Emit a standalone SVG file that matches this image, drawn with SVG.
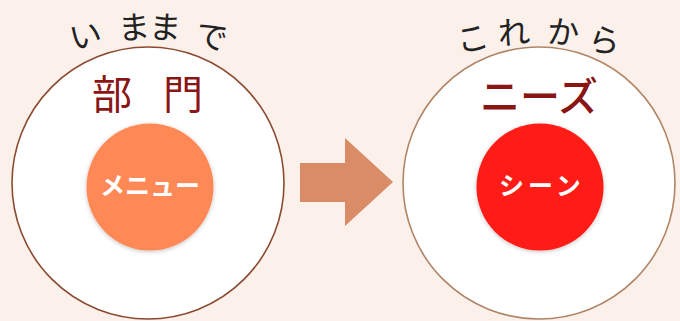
<svg xmlns="http://www.w3.org/2000/svg" width="680" height="321" viewBox="0 0 680 321">
<defs>
<style>
.hand{font-family:"Noto Sans CJK JP","Noto Sans",sans-serif;font-size:32px;fill:#222;text-anchor:middle}
.title{font-family:"Noto Sans CJK JP","Noto Sans",sans-serif;font-size:40px;fill:#8a1515;text-anchor:middle}
.inner{font-family:"Noto Sans CJK JP","Noto Sans",sans-serif;font-size:25px;fill:#fff;font-weight:bold;text-anchor:middle}
.plate{fill:#fff;stroke-width:1.6}
</style>
<filter id="sh" x="-20%" y="-20%" width="140%" height="140%">
<feGaussianBlur in="SourceAlpha" stdDeviation="2"/>
<feOffset dx="0" dy="1"/>
<feComponentTransfer><feFuncA type="linear" slope="0.25"/></feComponentTransfer>
<feMerge><feMergeNode/><feMergeNode in="SourceGraphic"/></feMerge>
</filter>
</defs>
<rect width="680" height="321" fill="#fcf0eb"/>
<g id="before">
<circle class="plate" cx="148" cy="183" r="136" stroke="#8b4a30"/>
<text class="hand" x="86" y="47" transform="rotate(-12 86 38)">い</text>
<text class="hand" x="134" y="39" transform="rotate(-4 134 30)">ま</text>
<text class="hand" x="165" y="39" transform="rotate(4 165 30)">ま</text>
<text class="hand" x="211" y="48" transform="rotate(12 211 39)">で</text>
<text class="title" x="112" y="109">部</text>
<text class="title" x="183" y="109">門</text>
<circle cx="150" cy="187" r="63.5" fill="#ff8957" filter="url(#sh)"/>
<text class="inner" x="150" y="195">メニュー</text>
</g>
<g id="after">
<circle class="plate" cx="539" cy="183" r="136" stroke="#b08566"/>
<text class="hand" x="473" y="50" transform="rotate(-12 473 41)">こ</text>
<text class="hand" x="514" y="44" transform="rotate(-4 514 35)">れ</text>
<text class="hand" x="563" y="44" transform="rotate(4 563 35)">か</text>
<text class="hand" x="604" y="52" transform="rotate(12 604 43)">ら</text>
<text class="title" x="539" y="111" font-weight="500">ニーズ</text>
<circle cx="540" cy="187" r="63.5" fill="#ff1a14" filter="url(#sh)"/>
<text class="inner" x="542" y="195" letter-spacing="4">シーン</text>
</g>
<g id="connectors">
<polygon points="300,163 345,163 345,138 393,182 345,226 345,202 300,202" fill="#d98c66"/>
</g>
</svg>
